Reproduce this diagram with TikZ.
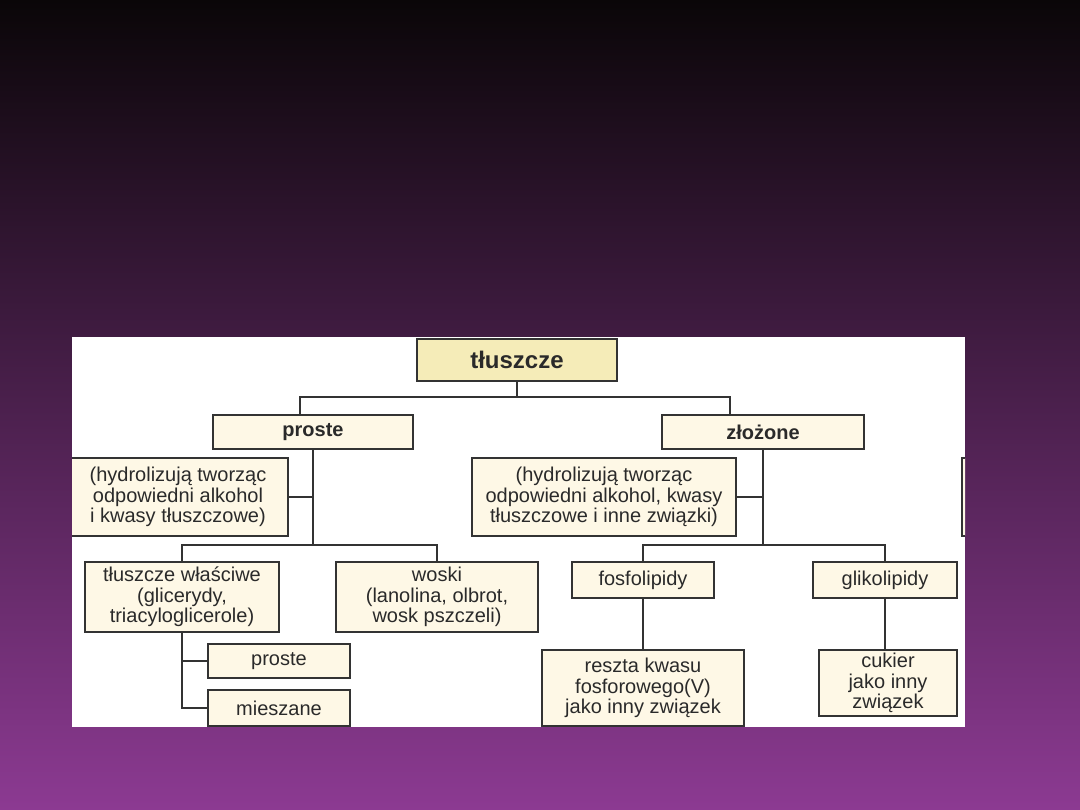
\documentclass[tikz,border=0pt]{standalone}
\usepackage{fontspec}
\setmainfont{Liberation Sans}
\usepackage{xcolor}
\definecolor{tlogora}{HTML}{0A0608}
\definecolor{tlosrodek}{HTML}{3A1A3C}
\definecolor{tlodol}{HTML}{8C3A92}
\definecolor{krem}{HTML}{FEF8E6}
\definecolor{zolty}{HTML}{F5ECB8}
\definecolor{ramka}{HTML}{333333}
\definecolor{tekst}{HTML}{2A2A2A}

\begin{document}
\begin{tikzpicture}[x=1pt, y=-1pt,
  blok/.style={draw=ramka, fill=krem, line width=1.6pt, text=tekst, align=center,
    inner sep=0pt, font=\fontsize{20}{20.7}\selectfont},
  gruby/.style={blok, font=\fontsize{20}{20.7}\selectfont\bfseries},
  korzen/.style={blok, fill=zolty, font=\fontsize{24}{24}\selectfont\bfseries},
  linia/.style={draw=ramka, line width=1.6pt}]
\useasboundingbox (0,0) rectangle (1080,810);
% Tlo
\shade[top color=tlogora, middle color=tlosrodek, bottom color=tlodol] (0,0) rectangle (1080,810);
\fill[white] (72,337) rectangle (965,727);
\begin{scope}
\clip (72,337) rectangle (965,727);
% Bloki
\node[korzen, minimum width=200pt, minimum height=42pt] (tl) at (517,360) {tłuszcze};
\node[gruby, minimum width=200pt, minimum height=34pt] (pr) at (313,432) {proste};
\node[gruby, minimum width=202pt, minimum height=34pt] (zl) at (763,432) {złożone};
\node[blok, minimum width=220pt, minimum height=78pt] (hydl) at (178,497)
  {(hydrolizują tworząc\\odpowiedni alkohol\\i kwasy tłuszczowe)};
\node[blok, minimum width=264pt, minimum height=78pt] (hydr) at (604,497)
  {(hydrolizują tworząc\\odpowiedni alkohol, kwasy\\tłuszczowe i inne związki)};
\node[blok, minimum width=194pt, minimum height=70pt] (tw) at (182,597)
  {tłuszcze właściwe\\(glicerydy,\\triacyloglicerole)};
\node[blok, minimum width=202pt, minimum height=70pt] (wo) at (437,597)
  {woski\\(lanolina, olbrot,\\wosk pszczeli)};
\node[blok, minimum width=142pt, minimum height=34pt] (ps) at (279,661) {proste};
\node[blok, minimum width=142pt, minimum height=36pt] (mi) at (279,708) {mieszane};
\node[blok, minimum width=142pt, minimum height=36pt] (fo) at (643,580) {fosfolipidy};
\node[blok, minimum width=144pt, minimum height=36pt] (gl) at (885,580) {glikolipidy};
\node[blok, minimum width=202pt, minimum height=76pt] (re) at (643,688)
  {reszta kwasu\\fosforowego(V)\\jako inny związek};
\node[blok, minimum width=138pt, minimum height=66pt] (cu) at (888,683)
  {cukier\\jako inny\\związek};
\draw[linia, fill=krem] (962,458) rectangle (1000,536);
% Polaczenia
\coordinate (j1) at (517,397);
\coordinate (j2) at (313,545);
\coordinate (j3) at (763,545);
\draw[linia] (tl) -- (j1);
\draw[linia] ([xshift=-13pt]pr.north) |- (j1) -| ([xshift=-33pt]zl.north);
\draw[linia] (pr) -- (j2);
\draw[linia] (hydl) -- (hydl -| pr);
\draw[linia] (tw) |- (j2) -| (wo);
\draw[linia] (tw) |- (ps);
\draw[linia] (tw) |- (mi);
\draw[linia] (zl) -- (j3);
\draw[linia] (hydr) -- (hydr -| zl);
\draw[linia] (fo) |- (j3) -| (gl);
\draw[linia] (fo) -- (re);
\draw[linia] (gl.south) -- (gl.south |- cu.north);
\end{scope}
\end{tikzpicture}
\end{document}
